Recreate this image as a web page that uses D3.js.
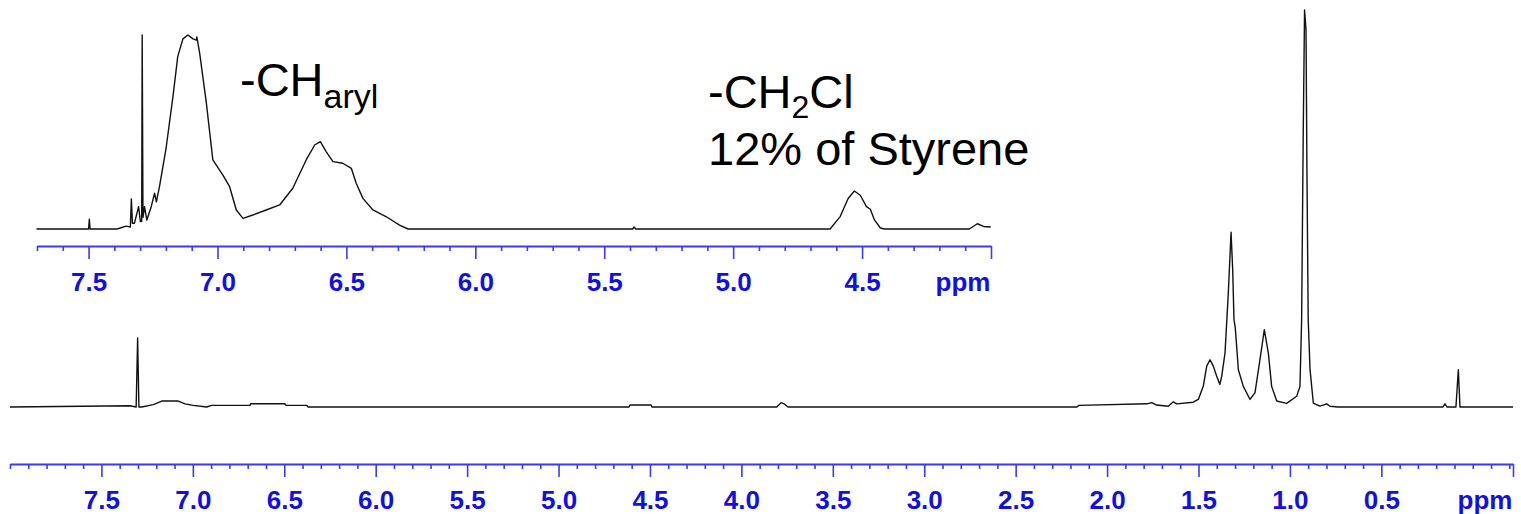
<!DOCTYPE html>
<head>
    <meta charset="utf-8">
    <script src="https://d3js.org/d3.v7.min.js"></script>
    <style>
        body { margin: 0; background: #fff; }
        text { font-family: "Liberation Sans", Arial, sans-serif; }
    </style>
</head>
<body>
    <svg></svg>
    <script>
        // full spectrum (ppm, relative intensity 0-100)
        var mainPpm = [8.00, 7.344, 7.31, 7.302, 7.295, 7.280, 7.216, 7.170, 7.080, 7.043, 6.998, 6.924, 6.897,
                       6.687, 6.684, 6.496, 6.490, 6.377, 6.369, 4.616, 4.609, 4.494, 4.489, 3.807, 3.783, 3.767, 3.745,
                       2.165, 2.154, 1.783, 1.756, 1.729, 1.665, 1.638, 1.619, 1.529, 1.501, 1.474, 1.455, 1.437, 1.419,
                       1.401, 1.383, 1.373, 1.355, 1.337, 1.322, 1.313, 1.306, 1.299, 1.282, 1.255, 1.218, 1.191, 1.164,
                       1.140, 1.118, 1.100, 1.072, 1.018, 0.963, 0.945, 0.936, 0.927, 0.920, 0.912, 0.907, 0.900, 0.890,
                       0.872, 0.836, 0.799, 0.781, 0.736, 0.163, 0.152, 0.141, 0.092, 0.079, 0.070, -0.22];
        var mainInt = [0, 0.3, 0, 17.4, 0, 0, 0.6, 1.5, 1.5, 0.8, 0.4, 0, 0.4,
                       0.4, 0.8, 0.8, 0.4, 0.4, 0, 0, 0.5, 0.5, 0, 0, 1.1, 0.8, 0,
                       0, 0.4, 0.8, 1.1, 0.5, 0.2, 1.3, 0.8, 1.2, 1.9, 5.2, 10.3, 11.9, 10.3,
                       7.8, 5.7, 7.8, 13.6, 28.7, 44, 34.6, 22, 20, 9.4, 5.2, 1.9, 3.6, 11.9,
                       19.5, 13.6, 5.2, 1.5, 0.9, 2.7, 5.2, 22, 70, 100, 95, 60, 22, 9.4,
                       1, 0.2, 0.8, 0.2, 0, 0, 0.8, 0, 0, 9.4, 0, 0];

        // expanded aromatic / CH2Cl region
        var insetPpm = [7.702, 7.500, 7.497, 7.494, 7.391, 7.380, 7.354, 7.338, 7.334, 7.330, 7.322, 7.306, 7.299,
                        7.294, 7.292, 7.289, 7.283, 7.274, 7.257, 7.244, 7.237, 7.225, 7.199, 7.173, 7.154, 7.134,
                        7.115, 7.095, 7.082, 7.080, 7.069, 7.043, 7.018, 6.979, 6.953, 6.927, 6.901, 6.863, 6.811,
                        6.759, 6.708, 6.656, 6.623, 6.601, 6.578, 6.552, 6.514, 6.481, 6.462, 6.436, 6.397, 6.345,
                        6.294, 6.261, 5.390, 5.384, 5.378, 4.624, 4.585, 4.554, 4.530, 4.507, 4.483, 4.468, 4.452,
                        4.429, 4.413, 4.084, 4.053, 4.029, 4.001];
        var insetInt = [0, 0, 5, 0, 0, 0.4, 1.5, 1, 15.5, 3, 3, 11.5, 3.8,
                        4, 100, 6, 11.5, 4.6, 11.5, 18.5, 14, 21.8, 42, 68, 89, 98,
                        100, 98, 97.4, 99, 90.5, 64.8, 35.6, 27.8, 21.8, 9.8, 5.5, 7.2, 9.8,
                        12.4, 21, 35.6, 43.3, 45, 39.8, 34.7, 33.9, 31.3, 23.6, 15.8, 9.8, 6.3,
                        2, 0, 0, 1, 0, 0, 6.4, 15.7, 19.6, 17.4, 11.5, 10.2, 4.7,
                        0.5, 0, 0, 2.7, 1.3, 1.0];

        // tick labels
        var mainTickLabels = ["7.5", "7.0", "6.5", "6.0", "5.5", "5.0", "4.5", "4.0",
                              "3.5", "3.0", "2.5", "2.0", "1.5", "1.0", "0.5"];
        var insetTickLabels = ["7.5", "7.0", "6.5", "6.0", "5.5", "5.0", "4.5"];

        var width = 1521, height = 514;
        var axisColor = "#3b3bf2", labelColor = "#0f0fe6";

        var svg = d3.select("svg")
            .attr("width", width)
            .attr("height", height);

        svg.append("rect").attr("width", width).attr("height", height).attr("fill", "#fff");

        // draws a spectrum trace plus its ppm axis
        function drawPanel(opt) {
            var x = d3.scaleLinear().domain(opt.ppmDomain).range(opt.xRange);
            var y = d3.scaleLinear().domain([0, 100]).range([opt.baseY, opt.topY]);

            var pts = opt.ppm.map(function (p, i) { return [p, opt.inten[i]]; });
            svg.append("path")
                .datum(pts)
                .attr("fill", "none")
                .attr("stroke", "#111")
                .attr("stroke-width", 1.4)
                .attr("stroke-linejoin", "round")
                .attr("d", d3.line().x(function (d) { return x(d[0]); }).y(function (d) { return y(d[1]); }));

            var majors = opt.labels.map(Number).concat([opt.ppmDomain[1]]);
            var lo = Math.round(opt.ppmDomain[1] * 10), hi = Math.round(opt.ppmDomain[0] * 10);
            var minors = d3.range(lo, hi + 1).map(function (v) { return v / 10; })
                .filter(function (v) { return majors.indexOf(v) < 0; });

            var g = svg.append("g").attr("transform", "translate(0," + opt.axisY + ")");

            g.append("g")
                .call(d3.axisBottom(x).tickValues(minors).tickSizeInner(5).tickSizeOuter(0).tickFormat(""))
                .call(function (s) { s.select(".domain").remove(); });

            g.append("g")
                .call(d3.axisBottom(x).tickValues(majors).tickSizeInner(13).tickSizeOuter(0).tickPadding(14)
                    .tickFormat(function (v, i) { return i < opt.labels.length ? opt.labels[i] : ""; }))
                .call(function (s) {
                    s.select(".domain").attr("stroke-width", 2);
                    s.selectAll("text").attr("font-size", 26).attr("font-weight", "bold")
                        .attr("fill", labelColor).attr("font-family", "'Liberation Sans', Arial, sans-serif");
                });

            g.selectAll("line, path").attr("stroke", axisColor);
            g.selectAll("line").attr("stroke-width", 1.6);

            g.append("text")
                .attr("x", opt.ppmX)
                .attr("y", 45)
                .attr("text-anchor", "middle")
                .attr("font-size", 26)
                .attr("font-weight", "bold")
                .attr("fill", labelColor)
                .text("ppm");
        }

        drawPanel({ ppm: mainPpm, inten: mainInt, labels: mainTickLabels,
                    ppmDomain: [8.0, -0.22], xRange: [10, 1513],
                    baseY: 407, topY: 10, axisY: 464, ppmX: 1485 });

        drawPanel({ ppm: insetPpm, inten: insetInt, labels: insetTickLabels,
                    ppmDomain: [7.70, 4.0], xRange: [37, 991],
                    baseY: 229, topY: 35, axisY: 246, ppmX: 963 });

        // peak annotations
        var t1 = svg.append("text").attr("x", 240).attr("y", 96).attr("font-size", 47).attr("fill", "#000");
        t1.append("tspan").text("-CH");
        t1.append("tspan").attr("font-size", 34).attr("dy", 12).text("aryl");

        var t2 = svg.append("text").attr("x", 708).attr("y", 108).attr("font-size", 47).attr("fill", "#000");
        t2.append("tspan").text("-CH");
        t2.append("tspan").attr("font-size", 32).attr("dy", 10).text("2");
        t2.append("tspan").attr("dy", -10).text("Cl");

        svg.append("text").attr("x", 708).attr("y", 165).attr("font-size", 47).attr("fill", "#000")
            .text("12% of Styrene");
    </script>
</body>
